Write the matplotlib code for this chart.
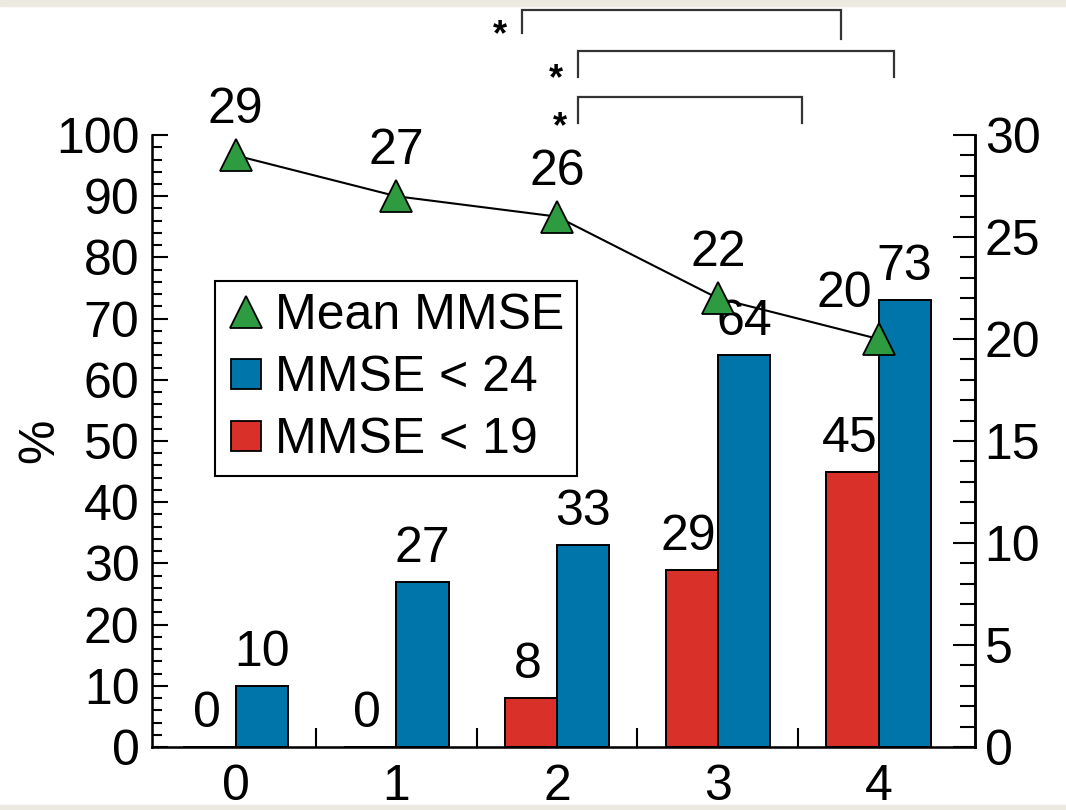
import matplotlib
matplotlib.use("Agg")
import matplotlib.pyplot as plt
from matplotlib.lines import Line2D
from matplotlib.patches import Rectangle
from matplotlib.ticker import MultipleLocator, FixedLocator
import numpy as np

plt.rcParams['font.family'] = ['Liberation Sans', 'DejaVu Sans']

groups = [0, 1, 2, 3, 4]
mmse_lt19 = [0, 0, 8, 29, 45]      # % , red bars
mmse_lt24 = [10, 27, 33, 64, 73]   # % , blue bars
mean_mmse = [29, 27, 26, 22, 20]   # right axis
labels = ["Mean MMSE", "MMSE < 24", "MMSE < 19"]

RED = "#d9302a"
BLUE = "#0075aa"
GREEN = "#2e9b40"
FS = 36

x = np.arange(len(groups))
w = 0.325

fig = plt.figure(figsize=(10.66, 8.1), dpi=100)
ax = fig.add_axes([0.1426, 0.0778, 0.772, 0.7555])

ax.bar(x - w / 2, mmse_lt19, w, color=RED, edgecolor="black", linewidth=1.4, zorder=2)
ax.bar(x + w / 2, mmse_lt24, w, color=BLUE, edgecolor="black", linewidth=1.4, zorder=2)

for xi, v in zip(x, mmse_lt19):
    ax.annotate(str(v), (xi - w / 2, v), xytext=(-3, 10), textcoords="offset pixels",
                ha="center", va="bottom", fontsize=FS)
for xi, v in zip(x, mmse_lt24):
    ax.annotate(str(v), (xi + w / 2, v), xytext=(0, 10), textcoords="offset pixels",
                ha="center", va="bottom", fontsize=FS)

ax.set_xlim(-0.52, 4.6)
ax.set_ylim(0, 100)
ax.spines["top"].set_visible(False)
for s in ["left", "right", "bottom"]:
    ax.spines[s].set_linewidth(1.8)

ax.yaxis.set_major_locator(MultipleLocator(10))
ax.yaxis.set_minor_locator(MultipleLocator(2))
ax.tick_params(axis="y", which="major", direction="in", length=11.5, width=1.5,
               labelsize=FS, pad=9)
ax.tick_params(axis="y", which="minor", direction="in", length=7, width=1.5)

ax.xaxis.set_major_locator(FixedLocator(x))
ax.set_xticklabels([str(g) for g in groups])
ax.xaxis.set_minor_locator(FixedLocator(x[:-1] + 0.5))
ax.tick_params(axis="x", which="major", length=0, labelsize=FS, pad=12)
ax.tick_params(axis="x", which="minor", direction="in", length=14, width=1.5)

ax.set_ylabel("%", fontsize=FS)
ax.yaxis.set_label_coords(-0.108, 0.5)

ax2 = ax.twinx()
ax2.set_ylim(0, 30)
ax2.spines["top"].set_visible(False)
ax2.spines["right"].set_linewidth(1.8)
ax2.yaxis.set_major_locator(MultipleLocator(5))
ax2.yaxis.set_minor_locator(MultipleLocator(1))
ax2.tick_params(axis="y", which="major", direction="in", length=16, width=1.5,
                labelsize=FS, pad=7)
ax2.tick_params(axis="y", which="minor", direction="in", length=11, width=1.5)

ax2.plot(x, mean_mmse, color="black", linewidth=1.5, marker="^", markersize=23,
         markerfacecolor=GREEN, markeredgecolor="black", markeredgewidth=1.3, zorder=3)
for i, v in enumerate(mean_mmse):
    dx = -34 if i == len(mean_mmse) - 1 else 0
    ax2.annotate(str(v), (x[i], v), xytext=(dx, 22), textcoords="offset pixels",
                 ha="center", va="bottom", fontsize=FS)

# significance brackets above the plot
brackets = [(1.782, 3.767, 120.4, 116.7, 115.7, 1.645, 116.2),
            (2.131, 4.097, 113.7, 109.5, 109.5, 1.99, 109.0),
            (2.131, 3.525, 106.2, 102.0, 102.0, 2.02, 101.2)]
for x0, x1, top, yl, yr, sx, sy in brackets:
    ax.plot([x0, x0, x1, x1], [yl, top, top, yr], color="#333333", linewidth=1.6,
            clip_on=False, solid_joinstyle="miter")
    ax.text(sx, sy, "*", fontsize=26, fontweight="bold", ha="center", va="center",
            clip_on=False)

handles = [Line2D([], [], linestyle="none", marker="^", markersize=23,
                  markerfacecolor=GREEN, markeredgecolor="black", markeredgewidth=1.3),
           Line2D([], [], linestyle="none", marker="s", markersize=21,
                  markerfacecolor=BLUE, markeredgecolor="black", markeredgewidth=1.3),
           Line2D([], [], linestyle="none", marker="s", markersize=21,
                  markerfacecolor=RED, markeredgecolor="black", markeredgewidth=1.3)]
leg = ax2.legend(handles, labels, loc="upper left", bbox_to_anchor=(0.077, 0.762),
                 fontsize=FS, frameon=True, fancybox=False, framealpha=1,
                 edgecolor="black", handlelength=0.74, handletextpad=0.21,
                 labelspacing=0.32, borderpad=0.25, borderaxespad=0)
leg.get_frame().set_linewidth(1.5)

# page strips at top and bottom
fig.patches.append(Rectangle((0, 0.993), 1, 0.007, transform=fig.transFigure,
                             color="#ece9e1", zorder=0))
fig.patches.append(Rectangle((0, 0), 1, 0.006, transform=fig.transFigure,
                             color="#ece9e1", zorder=0))

plt.savefig("out.png", dpi=100)
